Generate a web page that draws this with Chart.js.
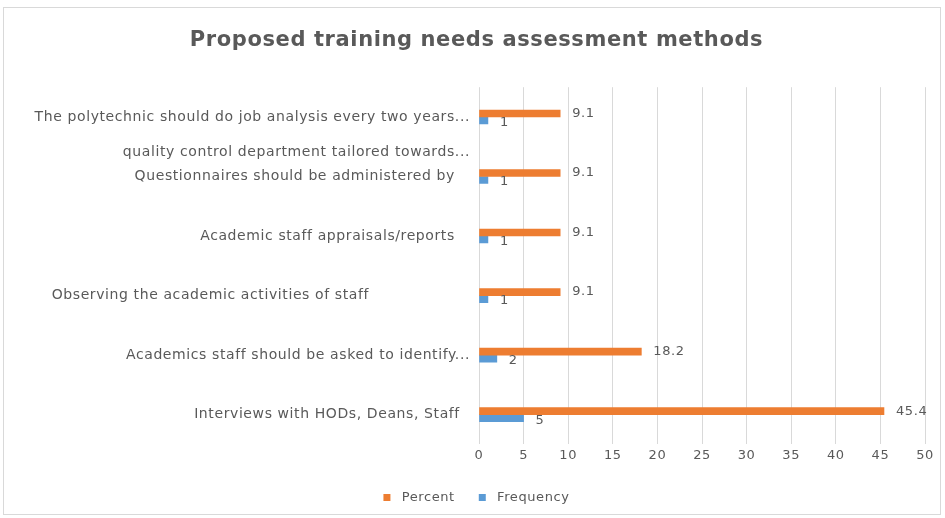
<!DOCTYPE html>
<html>
<head>
<meta charset="utf-8">
<script src="https://cdn.jsdelivr.net/npm/chart.js@4.4.1/dist/chart.umd.min.js"></script>
<style>
  html, body { margin: 0; padding: 0; background: #fff; }
  #wrap { width: 945px; height: 518px; position: relative; }
</style>
</head>
<body>
<div id="wrap"><canvas id="chart" width="945" height="518"></canvas></div>
<script>
// Categories, top to bottom (trailing spaces keep the original label offsets)
const categories = [
    'The polytechnic should do job analysis every two years...',
    ['quality control department tailored towards...', 'Questionnaires should be administered by   ', ''],
    'Academic staff appraisals/reports   ',
    'Observing the academic activities of staff                    ',
    'Academics staff should be asked to identify...',
    'Interviews with HODs, Deans, Staff  '
];
const percentValues = [9.1, 9.1, 9.1, 9.1, 18.2, 45.4];
const frequencyValues = [1, 1, 1, 1, 2, 5];
const xTicks = [0, 5, 10, 15, 20, 25, 30, 35, 40, 45, 50];

const textColor = '#595959';
const fontFamily = "'DejaVu Sans', sans-serif";

// The original text is set a little wide, so open up the letters slightly
const spacing = {
    id: 'spacing',
    beforeUpdate(chart) { chart.ctx.letterSpacing = '0.6px'; },
    beforeDraw(chart) { chart.ctx.letterSpacing = '0.6px'; }
};

// Draw the value next to the end of every bar
const valueLabels = {
    id: 'valueLabels',
    afterDatasetsDraw(chart) {
        const ctx = chart.ctx;
        ctx.save();
        ctx.font = '13px ' + fontFamily;
        ctx.fillStyle = textColor;
        ctx.textBaseline = 'middle';
        ctx.textAlign = 'left';
        chart.data.datasets.forEach(function(ds, i) {
            const meta = chart.getDatasetMeta(i);
            meta.data.forEach(function(bar, j) {
                const dy = i === 0 ? 0 : 2;
                ctx.fillText(String(ds.data[j]), bar.x + 12, bar.y + dy);
            });
        });
        ctx.restore();
    }
};

// Light frame round the whole chart
const frame = {
    id: 'frame',
    beforeDraw(chart) {
        const ctx = chart.ctx;
        ctx.save();
        ctx.strokeStyle = '#d9d9d9';
        ctx.lineWidth = 1;
        ctx.strokeRect(3.5, 7.5, 937, 507);
        ctx.restore();
    }
};

new Chart(document.getElementById('chart').getContext('2d'), {
    type: 'bar',
    data: {
        labels: categories,
        datasets: [{
            label: 'Percent',
            data: percentValues,
            backgroundColor: '#ED7D31',
            barThickness: 7
        }, {
            label: 'Frequency',
            data: frequencyValues,
            backgroundColor: '#5B9BD5',
            barThickness: 7
        }]
    },
    options: {
        indexAxis: 'y',
        responsive: false,
        animation: false,
        layout: { padding: { left: 28, right: 20, top: 6, bottom: 4 } },
        plugins: {
            title: {
                display: true,
                text: 'Proposed training needs assessment methods',
                color: textColor,
                font: { family: fontFamily, size: 21, weight: 'bold' },
                padding: { top: 22, bottom: 34 }
            },
            legend: {
                position: 'bottom',
                labels: {
                    color: textColor,
                    font: { family: fontFamily, size: 13 },
                    boxWidth: 7,
                    boxHeight: 7,
                    padding: 24,
                    generateLabels(chart) {
                        const items = Chart.defaults.plugins.legend.labels.generateLabels(chart);
                        items.forEach(function(it) { it.text = ' ' + it.text; });
                        return items;
                    }
                }
            },
            tooltip: { enabled: false }
        },
        scales: {
            x: {
                min: 0,
                max: 50,
                afterBuildTicks(scale) {
                    scale.ticks = xTicks.map(function(v) { return { value: v }; });
                },
                afterFit(scale) { scale.height += 1; },
                grid: { color: '#d9d9d9', drawTicks: false },
                border: { display: false },
                ticks: {
                    color: textColor,
                    font: { family: fontFamily, size: 13 },
                    padding: 3
                }
            },
            y: {
                afterFit(scale) { scale.width = 451; },
                grid: { display: false },
                border: { display: false },
                ticks: {
                    autoSkip: false,
                    color: textColor,
                    font: { family: fontFamily, size: 14, lineHeight: 1.7 },
                    padding: 1
                }
            }
        }
    },
    plugins: [spacing, frame, valueLabels]
});
</script>
</body>
</html>
